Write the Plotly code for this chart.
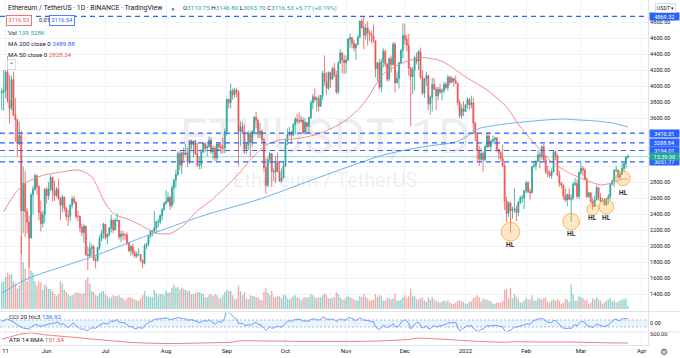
import numpy as np
import pandas as pd
import plotly.graph_objects as go

# ---------------- DATA ----------------
start_date = "2021-05-09"
first_open = 3911.0

# daily (high, low, close), open = previous close
hlc_2021_05 = [(3970,3700,3925),(4200,3690,3950),(4200,3850,4170),(4372,3790,3820),(4140,3530,3720),
               (4130,3690,4080),(4180,3620,3640),(3850,3300,3580),(3590,3120,3280),(3550,3260,3380),
               (3440,1900,2440),(2990,2160,2780),(2940,2110,2430),(2480,2160,2300),(2380,1730,2100),
               (2660,2090,2640),(2750,2390,2710),(2910,2690,2880),(2890,2640,2740),(2760,2320,2420),
               (2570,2180,2280),(2440,2230,2390),(2720,2290,2710)]
hlc_2021_06 = [(2740,2530,2630),(2800,2580,2710),(2890,2690,2860),(2860,2560,2690),(2820,2560,2630),
               (2740,2610,2710),(2840,2580,2590),(2620,2320,2510),(2640,2420,2610),(2620,2430,2470),
               (2490,2320,2370),(2450,2250,2370),(2520,2310,2510),(2620,2470,2590),(2630,2520,2550),
               (2560,2340,2370),(2440,2310,2370),(2380,2170,2230),(2280,2120,2170),(2270,2040,2250),
               (2250,1880,1890),(2000,1700,1875),(2050,1850,1970),(2030,1880,1990),(2010,1810,1830),
               (1870,1720,1820),(1990,1800,1980),(2130,1950,2090),(2200,2060,2160),(2290,2090,2275)]
hlc_2021_07 = [(2275,2080,2110),(2160,2020,2150),(2240,2120,2225),(2390,2170,2325),(2320,2160,2200),
               (2350,2200,2320),(2410,2300,2320),(2320,2080,2115),(2190,2050,2150),(2190,2070,2140),
               (2160,2080,2140),(2170,2010,2035),(2050,1920,1940),(2010,1880,1995),(2030,1880,1915),
               (1950,1850,1875),(1930,1850,1895),(1970,1880,1895),(1900,1800,1820),(1830,1720,1785),
               (2030,1770,2000),(2040,1960,2025),(2130,1990,2125),(2200,2100,2185),(2200,2120,2190),
               (2440,2170,2230),(2320,2150,2300),(2340,2230,2300),(2400,2270,2380),(2470,2320,2460),
               (2550,2440,2535)]
hlc_2021_08 = [(2700,2510,2555),(2670,2540,2605),(2630,2450,2505),(2760,2480,2725),(2840,2530,2825),
               (2950,2730,2890),(3180,2880,3155),(3185,2950,3010),(3180,2900,3165),(3230,3060,3140),
               (3275,3140,3165),(3230,2985,3045),(3330,3030,3320),(3330,3210,3265),(3320,3110,3310),
               (3330,3140,3150),(3290,2990,3010),(3120,2960,3015),(3190,2960,3180),(3300,3160,3285),
               (3290,3180,3225),(3270,3120,3240),(3370,3230,3325),(3360,3150,3175),(3250,3080,3225),
               (3250,3060,3100),(3280,3060,3275),(3290,3200,3245),(3270,3150,3225),(3350,3160,3225),
               (3470,3160,3430)]
hlc_2021_09 = [(3840,3380,3835),(3840,3720,3790),(4030,3720,3940),(3970,3830,3890),(3980,3850,3950),
               (3970,3860,3925),(3950,3000,3430),(3560,3250,3490),(3550,3400,3425),(3520,3150,3210),
               (3300,3150,3265),(3440,3200,3410),(3430,3110,3290),(3450,3240,3430),(3620,3410,3610),
               (3680,3470,3570),(3590,3340,3400),(3540,3350,3435),(3460,3290,3330),(3350,2930,2980),
               (3100,2650,2760),(3110,2740,3080),(3180,3030,3155),(3160,2740,2930),(2970,2810,2925),
               (3120,2790,3060),(3170,2920,2930),(3060,2800,2810),(2970,2790,2850),(3050,2840,3000)]
hlc_2021_10 = [(3340,2990,3310),(3470,3260,3390),(3490,3370,3420),(3440,3280,3385),(3540,3370,3515),
               (3610,3400,3585),(3650,3530,3560),(3670,3530,3560),(3630,3540,3575),(3610,3400,3415),
               (3600,3390,3545),(3550,3400,3495),(3620,3410,3605),(3820,3590,3790),(3900,3710,3865),
               (3970,3800,3830),(3870,3680,3845),(3890,3680,3745),(3890,3740,3880),(4190,3820,4160),
               (4380,4000,4055),(4170,3890,3970),(4180,3950,4170),(4180,3980,4085),(4240,4080,4220),
               (4290,4110,4130),(4190,3900,3925),(4310,3900,4285),(4460,4280,4415),(4420,4160,4325),
               (4390,4150,4290)]
hlc_2021_11 = [(4380,4160,4325),(4600,4310,4585),(4660,4480,4605),(4610,4470,4535),(4580,4430,4475),
               (4530,4330,4520),(4640,4510,4610),(4820,4600,4810),(4840,4720,4730),(4869,4460,4635),
               (4780,4580,4725),(4810,4510,4665),(4700,4560,4645),(4690,4530,4625),(4770,4540,4565),
               (4570,4110,4215),(4300,4060,4290),(4340,3960,3985),(4340,3920,4300),(4470,4230,4435),
               (4450,4240,4270),(4290,4050,4085),(4360,4060,4340),(4380,4170,4270),(4550,4250,4520),
               (4550,3920,4040),(4180,4030,4095),(4300,3970,4290),(4460,4280,4445),(4780,4350,4630)]
hlc_2021_12 = [(4780,4520,4585),(4640,4430,4510),(4650,4130,4225),(4240,3500,4115),(4240,3900,4200),
               (4380,3940,4355),(4420,4270,4310),(4450,4200,4430),(4480,4090,4110),(4200,3890,3910),
               (4100,3850,4085),(4180,4000,4130),(4140,3700,3780),(3880,3640,3860),(4100,3680,4020),
               (4100,3950,3960),(3990,3700,3880),(3990,3820,3960),(4030,3900,3925),(3970,3820,3940),
               (4050,3910,4020),(4050,3960,3980),(4140,3940,4110),(4130,4010,4045),(4120,4040,4095),
               (4100,3990,4065),(4130,4030,4035),(4040,3760,3795),(3830,3600,3630),(3770,3590,3715),
               (3810,3620,3680)]
hlc_2022_01 = [(3770,3680,3765),(3860,3720,3830),(3850,3700,3765),(3880,3720,3790),(3850,3400,3540),
               (3550,3310,3405),(3420,3060,3195),(3250,3000,3085),(3220,3060,3155),(3180,2930,3080),
               (3260,3060,3240),(3420,3220,3375),(3420,3230,3245),(3330,3180,3310),(3380,3280,3330),
               (3370,3270,3350),(3360,3180,3210),(3210,3080,3165),(3190,3060,3095),(3270,2990,3000),
               (3040,2450,2560),(2620,2300,2405),(2560,2360,2540),(2540,2160,2440),(2490,2340,2460),
               (2720,2420,2465),(2510,2310,2420),(2560,2370,2545),(2630,2520,2600),(2640,2540,2600),
               (2700,2460,2690)]
hlc_2022_02 = [(2810,2660,2790),(2810,2660,2680),(2720,2580,2665),(3000,2660,2990),(3060,2980,3010),
               (3070,2950,3060),(3200,3040,3140),(3180,2970,3120),(3260,3080,3240),(3280,3050,3080),
               (3140,2900,2930),(3000,2860,2910),(2950,2850,2880),(2970,2840,2930),(3190,2920,3180),
               (3190,3070,3125),(3150,2870,2885),(2940,2740,2785),(2800,2720,2760),(2770,2580,2625),
               (2720,2550,2575),(2660,2500,2640),(2720,2570,2585),(2650,2300,2600),(2800,2570,2770),
               (2850,2750,2780),(2830,2590,2620),(2930,2590,2920)]
hlc_2022_03 = [(3040,2890,2970),(3000,2880,2950),(2970,2820,2835),(2850,2600,2620),(2680,2600,2665),
               (2670,2540,2555),(2610,2450,2495),(2630,2490,2575),(2760,2570,2730),(2730,2570,2605),
               (2660,2550,2560),(2600,2550,2570),(2600,2500,2515),(2600,2500,2590),(2650,2520,2620),
               (2780,2580,2770),(2830,2760,2815),(2960,2740,2945),(3000,2920,2950),(2950,2840,2860),
               (2930,2830,2895),(3040,2890,2970),(3040,2930,3030),(3125,2970,3110.75),(3146.80,3093.70,3116.53)]

# daily volume, thousand ETH
vol_2021_05 = [1250,1300,1500,1700,1600,1650,1300,1200,950,1100,3400,2200,1900,1300,3300,1800,1700,1300,1100,1300,1250,900,1150]
vol_2021_06 = [1050,950,950,850,700,600,700,1300,1200,900,800,700,600,650,700,800,750,750,700,750,1350,1500,1200,850,800,650,600,750,800,850]
vol_2021_07 = [700,600,500,550,650,600,600,650,550,500,400,500,550,550,500,450,400,400,500,650,850,600,600,550,550,900,750,650,700,700,650]
vol_2021_08 = [850,750,800,1000,1150,1000,1050,900,1000,950,900,850,850,700,700,750,800,800,750,700,550,550,650,700,600,700,650,500,500,650,800]
vol_2021_09 = [900,850,850,650,450,500,1100,850,650,800,500,450,650,600,600,550,550,450,400,800,1000,750,650,850,550,550,600,600,500,650]
vol_2021_10 = [650,500,450,500,600,650,550,500,400,500,550,550,550,700,650,550,500,550,550,650,750,650,500,500,550,550,800,700,550,450,450]
vol_2021_11 = [550,600,550,500,450,400,400,600,550,700,550,500,400,400,450,700,550,650,600,400,400,500,500,450,500,700,400,400,450,550]
vol_2021_12 = [650,500,600,950,600,600,450,450,500,550,400,350,550,450,550,450,400,350,300,350,400,350,400,300,250,250,300,400,400,350,350]
vol_2022_01 = [250,250,350,350,500,550,650,550,350,500,450,450,400,350,250,250,300,300,300,400,900,950,500,1000,500,700,550,450,300,300,400]
vol_2022_02 = [500,450,450,650,400,400,500,500,450,500,550,350,300,400,450,400,450,400,250,300,450,450,350,1150,700,400,400,600]
vol_2022_03 = [550,500,400,450,250,300,500,450,550,450,400,250,300,400,450,500,350,400,300,350,400,450,450,500,140]

# moving averages
ma50_dates = ["2021-05-10","2021-05-16","2021-05-21","2021-05-26","2021-05-31","2021-06-05","2021-06-12",
              "2021-06-17","2021-06-20","2021-06-24","2021-06-27","2021-06-30","2021-07-04","2021-07-07",
              "2021-07-12","2021-07-17","2021-07-22","2021-07-27","2021-08-03","2021-08-10","2021-08-17",
              "2021-08-24","2021-09-01","2021-09-07","2021-09-14","2021-09-21","2021-09-28","2021-10-05",
              "2021-10-12","2021-10-19","2021-10-25","2021-11-01","2021-11-08","2021-11-12","2021-11-20",
              "2021-12-01","2021-12-10","2021-12-20","2022-01-01","2022-01-12","2022-01-22","2022-01-29",
              "2022-02-05","2022-02-13","2022-02-22","2022-03-02","2022-03-11","2022-03-17","2022-03-23",
              "2022-03-25"]
ma50_vals = [2430,2660,2785,2845,2890,2910,2940,2950,2930,2865,2740,2575,2430,2380,2340,2285,2220,2160,
             2155,2260,2440,2570,2750,2900,3100,3262,3325,3338,3363,3413,3475,3575,3725,3850,4150,4300,
             4355,4310,4115,3950,3738,3488,3288,3075,2925,2838,2763,2788,2840,2828.34]

ma200_dates = ["2021-05-09","2021-05-23","2021-06-24","2021-07-23","2021-08-20","2021-09-18","2021-10-15",
               "2021-11-20","2021-12-10","2021-12-27","2022-01-01","2022-01-08","2022-01-17","2022-01-25",
               "2022-02-11","2022-02-20","2022-02-28","2022-03-09","2022-03-17","2022-03-25"]
ma200_vals = [1412,1600,1863,2137,2380,2587,2830,3138,3238,3300,3360,3470,3510,3537,3575,3587,3575,3562,
              3537,3489.88]

atr_dates = ["2021-05-09","2021-05-13","2021-05-19","2021-05-24","2021-05-31","2021-06-12","2021-06-29",
             "2021-07-15","2021-08-01","2021-08-18","2021-09-04","2021-09-07","2021-09-22","2021-10-10",
             "2021-10-26","2021-11-16","2021-12-03","2021-12-08","2021-12-20","2022-01-06","2022-01-22",
             "2022-01-25","2022-02-08","2022-02-25","2022-03-13","2022-03-25"]
atr_vals = [300,380,500,540,470,390,270,170,130,150,185,230,230,215,215,225,290,340,300,220,180,200,190,
            190,160,151.54]

cci_early_dates = ["2021-05-09","2021-05-12","2021-05-15","2021-05-17","2021-05-20","2021-05-23","2021-05-25","2021-05-27"]
cci_early_vals = [60,130,40,-40,-130,-160,-60,-20]

price_ticks = [1400,1600,1800,2000,2200,2400,2600,2800,3000,3200,3400,3600,3800,4000,4200,4400,4600,4800]
price_tick_text = ["1400.00","1600.00","1800.00","2000.00","2200.00","2400.00","2600.00","2800.00","","","",
                   "3600.00","3800.00","4000.00","4200.00","4400.00","4600.00","4800.00"]
tick_dates = ["2021-05-11","2021-06-01","2021-07-01","2021-08-01","2021-09-01","2021-10-01","2021-11-01",
              "2021-12-01","2022-01-01","2022-02-01","2022-03-01","2022-04-01"]
tick_labels = ["11","Jun","Jul","Aug","Sep","Oct","Nov","Dec","2022","Feb","Mar","Apr"]

level_prices = [4869.32, 3410.01, 3288.84, 3194.01, 3051.77]
level_labels = ["4869.32", "3410.01", "3288.84", "3194.01", "3051.77"]
last_price = 3116.53

hl_dates = ["2022-01-24", "2022-02-24", "2022-03-07", "2022-03-14", "2022-03-22 12:00"]
hl_prices = [2179, 2304, 2459, 2491, 2846]
hl_radius = [9.3, 8.3, 5.8, 7.3, 7.3]
hl_label_offset = [13, 12.5, 9, 11, 14.5]

# ---------------- BUILD ----------------
months_hlc = [hlc_2021_05, hlc_2021_06, hlc_2021_07, hlc_2021_08, hlc_2021_09, hlc_2021_10,
              hlc_2021_11, hlc_2021_12, hlc_2022_01, hlc_2022_02, hlc_2022_03]
months_vol = [vol_2021_05, vol_2021_06, vol_2021_07, vol_2021_08, vol_2021_09, vol_2021_10,
              vol_2021_11, vol_2021_12, vol_2022_01, vol_2022_02, vol_2022_03]
rows = [r for m in months_hlc for r in m]
volume = np.array([v for m in months_vol for v in m], float)
high = np.array([r[0] for r in rows], float)
low = np.array([r[1] for r in rows], float)
close = np.array([r[2] for r in rows], float)
open_ = np.concatenate([[first_open], close[:-1]])
n = min(len(rows), len(volume))
dates = pd.date_range(start_date, periods=len(rows), freq="D")

up = "#26a69a"
dn = "#ef5350"
vol_colors = ["rgba(38,166,154,0.5)" if c >= o else "rgba(239,83,80,0.5)" for o, c in zip(open_, close)]

# CCI 20 on hlc3
tp = pd.Series((high + low + close) / 3.0)
sma = tp.rolling(20).mean()
mad = tp.rolling(20).apply(lambda w: np.mean(np.abs(w - w.mean())), raw=True)
cci = ((tp - sma) / (0.015 * mad)).to_numpy()
cci_x = list(pd.to_datetime(cci_early_dates)) + list(dates[19:])
cci_y = list(cci_early_vals) + list(cci[19:])

# geometry (pixels of plot area: 648 x 345)
PH = 345.0
PW = 648.0
def fy(px):
    return 1 - px / PH
def fx(px):
    return px / PW

main_dom = [fy(311), 1]
cci_dom = [fy(331.5), fy(312.5)]
atr_dom = [0, fy(332.5)]
price_range = [1187.5, 5075]
vol_range = [-94, 14523]
cci_range = [-229, 314]
atr_range = [74, 558]
x_range = ["2021-05-08 03:20", "2022-04-04 06:15"]

FONT = "Roboto, Liberation Sans, sans-serif"
TXT = "#131722"

fig = go.Figure()
fig.add_trace(go.Bar(x=dates[:n], y=volume[:n], marker=dict(color=vol_colors[:n], line=dict(width=0)),
                     xaxis="x", yaxis="y", hoverinfo="skip"))
fig.add_trace(go.Candlestick(x=dates, open=open_, high=high, low=low, close=close, xaxis="x", yaxis="y2",
                             increasing=dict(line=dict(color=up, width=0.8), fillcolor=up),
                             decreasing=dict(line=dict(color=dn, width=0.8), fillcolor=dn),
                             whiskerwidth=0, hoverinfo="skip"))
fig.add_trace(go.Scatter(x=ma200_dates, y=ma200_vals, mode="lines", xaxis="x", yaxis="y2",
                         line=dict(color="#64b5f6", width=1, shape="spline", smoothing=0.6), hoverinfo="skip"))
fig.add_trace(go.Scatter(x=ma50_dates, y=ma50_vals, mode="lines", xaxis="x", yaxis="y2",
                         line=dict(color="#f48a8a", width=1, shape="spline", smoothing=0.6), hoverinfo="skip"))
fig.add_trace(go.Scatter(x=cci_x, y=cci_y, mode="lines", xaxis="x", yaxis="y3",
                         line=dict(color="#5b8ff9", width=0.9), hoverinfo="skip"))
fig.add_trace(go.Scatter(x=atr_dates, y=atr_vals, mode="lines", xaxis="x", yaxis="y4",
                         line=dict(color="#f06d6d", width=0.9, shape="spline", smoothing=0.6), hoverinfo="skip"))

shapes = []
for p in level_prices:
    shapes.append(dict(type="line", xref="paper", yref="y2", x0=0, x1=1, y0=p, y1=p,
                       line=dict(color="#2962ff", width=1.2, dash="5px,4px"), layer="above"))
shapes.append(dict(type="line", xref="paper", yref="y2", x0=0, x1=1, y0=last_price, y1=last_price,
                   line=dict(color="rgba(38,166,154,0.45)", width=1), layer="above"))
# CCI band
shapes.append(dict(type="rect", xref="paper", yref="y3", x0=0, x1=1, y0=-100, y1=100,
                   fillcolor="rgba(33,150,243,0.10)", line=dict(width=0), layer="below"))
for b in (-100, 100):
    shapes.append(dict(type="line", xref="paper", yref="y3", x0=0, x1=1, y0=b, y1=b,
                       line=dict(color="rgba(120,123,134,0.6)", width=0.8, dash="2px,2px"), layer="below"))
# pane separators
for py in (311.5, 332):
    shapes.append(dict(type="line", xref="paper", yref="paper", x0=0, x1=1 + 32 / PW, y0=fy(py), y1=fy(py),
                       line=dict(color="#e0e3eb", width=1)))
# HL circles
for d, p, r in zip(hl_dates, hl_prices, hl_radius):
    shapes.append(dict(type="circle", xref="x", yref="y2", xsizemode="pixel", ysizemode="pixel",
                       xanchor=d, yanchor=p, x0=-r, x1=r, y0=-r, y1=r,
                       fillcolor="rgba(255,183,77,0.30)", line=dict(color="rgba(255,167,38,0.8)", width=1)))

ann = []
def txt(x, y, text, size=6.6, color=TXT, **kw):
    d = dict(xref="paper", yref="paper", x=fx(x), y=fy(y), text=text, showarrow=False,
             xanchor="left", yanchor="middle", font=dict(size=size, color=color, family=FONT))
    d.update(kw)
    ann.append(d)

def span(c, t):
    return "<span style='color:%s'>%s</span>" % (c, t)

# watermark
txt(325, 136, "ETHUSDT, 1D", size=49, color="rgba(149,152,161,0.16)", xanchor="center")
txt(325, 180, "Ethereum / TetherUS", size=20, color="rgba(149,152,161,0.16)", xanchor="center")

# header
txt(6, 8, "Ethereum / TetherUS · 1D · BINANCE · TradingView", size=6.9)
txt(169, 8, span(up, "●"), size=6)
txt(181, 8, "O" + span(up, "3110.75") + " H" + span(up, "3146.80") + " L" + span(up, "3093.70") +
    " C" + span(up, "3116.53") + " " + span(up, "+5.77 (+0.19%)"), size=6.2)
txt(6, 20, "3116.53", size=5.8, color=dn, bordercolor=dn, borderwidth=0.8, borderpad=1.5, bgcolor="white")
txt(37, 20, "0.01", size=5.6)
txt(49, 20, "3116.54", size=5.8, color="#2962ff", bordercolor="#2962ff", borderwidth=0.8, borderpad=1.5, bgcolor="white")
txt(6, 33, "Vol " + span(up, "139.528K"), size=6.2)
txt(6, 44, "MA 200 close 0 " + span("#2962ff", "3489.88"), size=6.2)
txt(6, 55, "MA 50 close 0 " + span(dn, "2828.34"), size=6.2)
txt(7, 64, "⌃", size=6, bordercolor="#d1d4dc", borderwidth=0.8, borderpad=1.2, bgcolor="white")

# indicator labels
txt(7, 317, "CCI 20 hlc3 " + span("#2962ff", "136.92"), size=6.2)
txt(7, 340, "ATR 14 RMA " + span(dn, "151.54"), size=6.2)

# right-side labels
for p, lab in zip(level_prices, level_labels):
    ann.append(dict(xref="paper", yref="y2", x=fx(664), y=p, text=lab, showarrow=False, xanchor="center",
                    yanchor="middle", font=dict(size=5.6, color="white", family=FONT),
                    bgcolor="#2962ff", width=28, height=6.5, borderpad=0.3))
ann.append(dict(xref="paper", yref="y2", x=fx(664), y=last_price, text="15:39:30", showarrow=False,
                xanchor="center", yanchor="middle", font=dict(size=5.6, color="white", family=FONT),
                bgcolor=up, width=28, height=6.5, borderpad=0.3))
txt(655, 8, "USDT ▾", size=5.4, bordercolor="#d1d4dc", borderwidth=0.8, borderpad=1, bgcolor="white")
txt(664, 352, "⚙", size=9, color="#50535e", xanchor="center")

# HL labels
for d, p, off in zip(hl_dates, hl_prices, hl_label_offset):
    ann.append(dict(xref="x", yref="y2", x=d, y=p, yshift=-off, text="<b>HL</b>", showarrow=False,
                    xanchor="center", yanchor="middle", font=dict(size=6.6, color="#2a2e39", family=FONT)))

GRID = "#f0f3fa"
fig.update_layout(
    width=680, height=358, margin=dict(l=0, r=32, t=0, b=13, autoexpand=False),
    paper_bgcolor="white", plot_bgcolor="white", showlegend=False, bargap=0.3,
    font=dict(family=FONT, color=TXT), hovermode=False,
    xaxis=dict(type="date", range=x_range, anchor="y4", domain=[0, 1], tickvals=tick_dates,
               ticktext=tick_labels, showgrid=True, gridcolor=GRID, showline=True, linecolor="#e0e3eb",
               ticks="", tickfont=dict(size=6, color=TXT), rangeslider=dict(visible=False), zeroline=False),
    yaxis=dict(domain=main_dom, range=vol_range, visible=False, showgrid=False, fixedrange=True),
    yaxis2=dict(overlaying="y", side="right", anchor="x", range=price_range, tickvals=price_ticks,
                ticktext=price_tick_text, showgrid=True, gridcolor=GRID, tickfont=dict(size=5.6, color=TXT),
                showline=True, linecolor="#e0e3eb", zeroline=False, ticks=""),
    yaxis3=dict(domain=cci_dom, range=cci_range, side="right", anchor="x", tickvals=[0], ticktext=["0.00"],
                showgrid=False, zeroline=False, tickfont=dict(size=5.6, color=TXT), showline=True,
                linecolor="#e0e3eb", ticks=""),
    yaxis4=dict(domain=atr_dom, range=atr_range, side="right", anchor="x", tickvals=[500], ticktext=["500.00"],
                showgrid=False, zeroline=False, tickfont=dict(size=5.6, color=TXT), showline=True,
                linecolor="#e0e3eb", ticks=""),
    shapes=shapes, annotations=ann,
)

fig.write_html("out.html", config={"displayModeBar": False},
               post_script="document.body.style.margin='0';document.body.style.padding='0';")
